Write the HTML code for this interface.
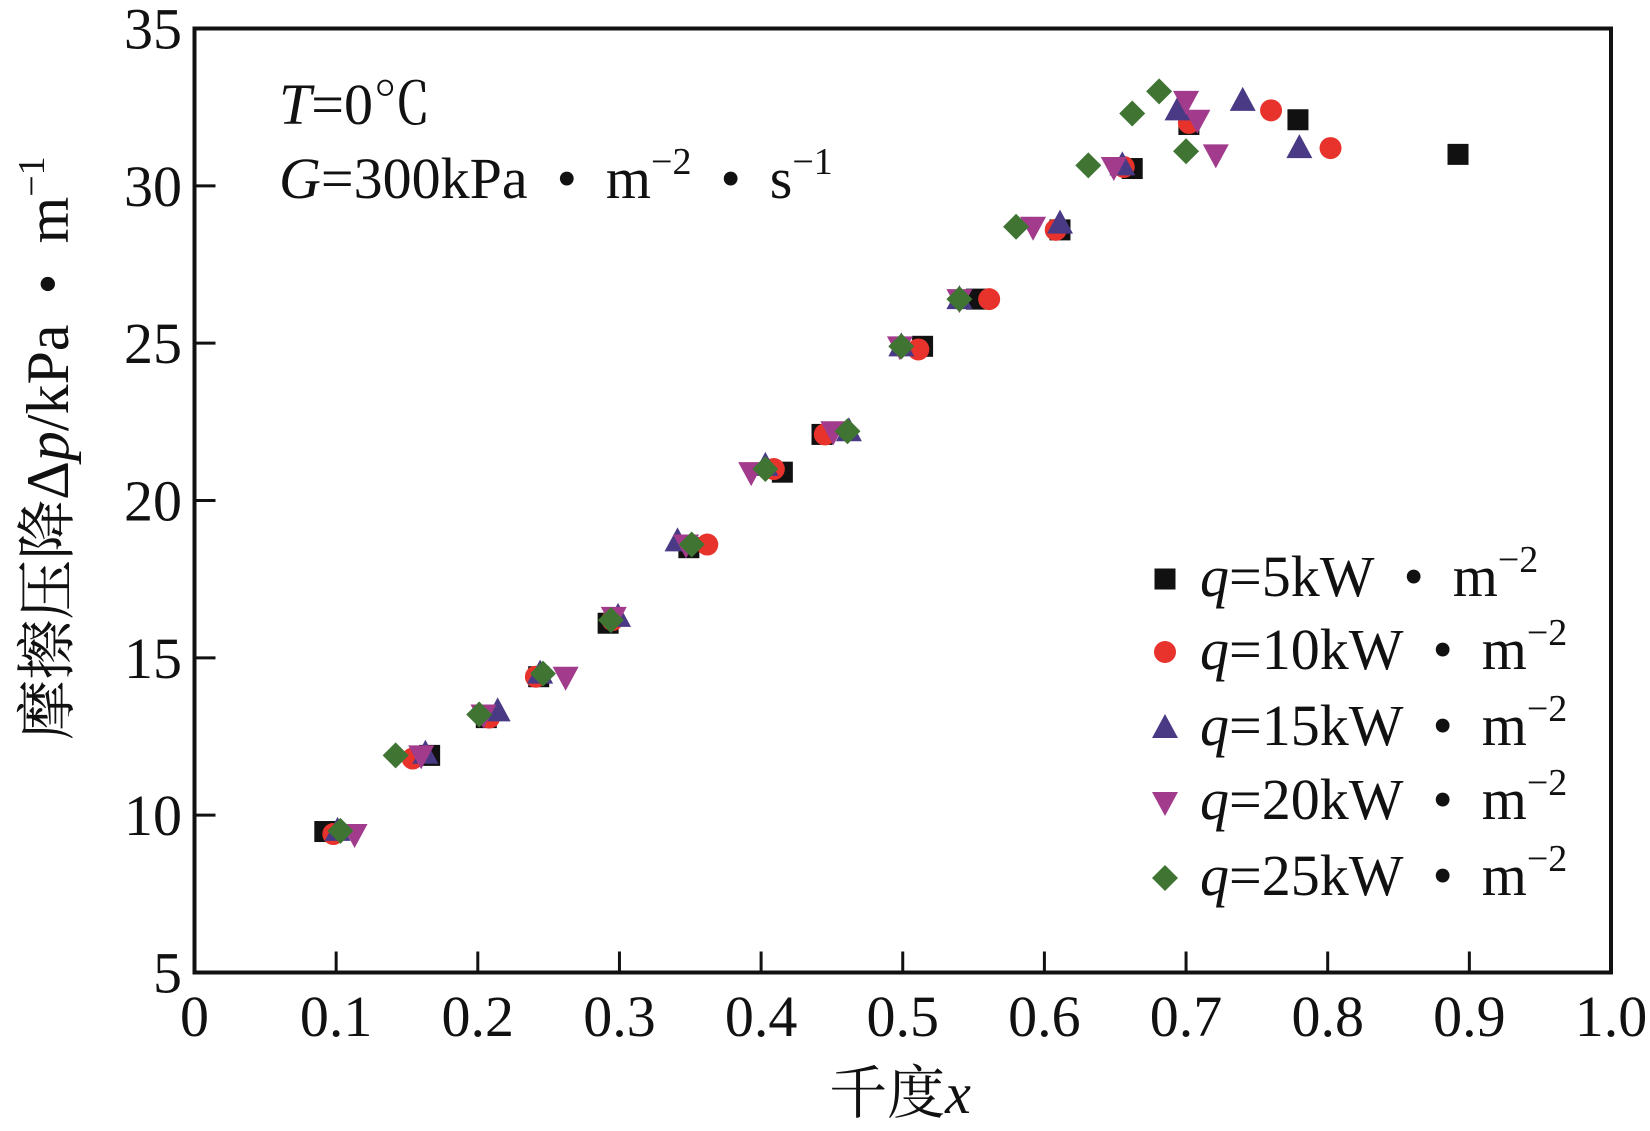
<!DOCTYPE html>
<html><head><meta charset="utf-8">
<style>
html,body{margin:0;padding:0;background:#fff;}
svg{display:block;}
text{font-family:"Liberation Serif","Noto Serif CJK SC","Noto Sans CJK SC",serif;fill:#111;}
</style></head>
<body>
<svg id="chart" width="1650" height="1131" viewBox="0 0 1650 1131">
<g id="marks"></g>
<rect x="194.5" y="28.5" width="1416.5" height="944" fill="none" stroke="#111" stroke-width="4"/>
<g id="ticks"></g>
<text x="279" y="124" font-size="58"><tspan font-style="italic">T</tspan>=0℃</text>
<text x="279" y="198" font-size="58"><tspan font-style="italic">G</tspan>=300kPa&#8194;•&#8194;m<tspan dy="-24" font-size="38">−2</tspan><tspan dy="24">&#8194;•&#8194;s</tspan><tspan dy="-24" font-size="38">−1</tspan></text>
<text transform="translate(68,448) rotate(-90)" text-anchor="middle" font-size="60">摩擦压降Δ<tspan font-style="italic">p</tspan>/kPa&#8194;•&#8194;m<tspan dy="-24" font-size="38">−1</tspan></text>
<text x="900" y="1113" text-anchor="middle" font-size="58">千度<tspan font-style="italic">x</tspan></text>
<g id="legend"></g>
</svg>
<script>
const xTicks = [0,0.1,0.2,0.3,0.4,0.5,0.6,0.7,0.8,0.9,1.0];
const xTickLabels = ["0","0.1","0.2","0.3","0.4","0.5","0.6","0.7","0.8","0.9","1.0"];
const yTicks = [5,10,15,20,25,30,35];
const seriesNames = ["q=5kW","q=10kW","q=15kW","q=20kW","q=25kW"];
const q5x = [.092,.166,.206,.243,.292,.349,.415,.443,.514,.552,.611,.662,.702,.779,.892];
const q5y = [9.48,11.9,13.1,14.4,16.1,18.5,20.9,22.1,24.9,26.4,28.6,30.55,31.95,32.1,31.0];
const q10x = [.098,.154,.208,.241,.295,.362,.409,.445,.511,.561,.608,.656,.702,.760,.802];
const q10y = [9.4,11.8,13.1,14.4,16.2,18.6,21.0,22.1,24.8,26.4,28.6,30.6,32.0,32.4,31.2];
const q15x = [.101,.163,.214,.244,.299,.341,.403,.462,.499,.540,.611,.655,.694,.740,.780];
const q15y = [9.5,11.95,13.3,14.5,16.3,18.7,21.1,22.2,24.9,26.4,28.8,30.65,32.4,32.7,31.2];
const q20x = [.113,.160,.204,.262,.296,.347,.393,.451,.498,.540,.592,.649,.700,.708,.721];
const q20y = [9.4,11.9,13.2,14.4,16.3,18.6,20.9,22.2,24.9,26.4,28.7,30.6,32.7,32.1,31.0];
const q25x = [.103,.142,.201,.246,.294,.351,.403,.461,.499,.540,.580,.631,.662,.681,.700];
const q25y = [9.5,11.9,13.2,14.5,16.2,18.6,21.0,22.2,24.9,26.4,28.7,30.65,32.3,33.0,31.1];

const NS="http://www.w3.org/2000/svg";
const X0=194.5,X1=1611,Y0=972.5,Y1=28.5;
function sx(v){return X0+(v-0)/(1-0)*(X1-X0);}
function sy(v){return Y0-(v-5)/(35-5)*(Y0-Y1);}
function mk(tag,attrs,parent){const e=document.createElementNS(NS,tag);for(const k in attrs)e.setAttribute(k,attrs[k]);parent.appendChild(e);return e;}

const colors=["#111111","#e8332c","#4a3a86","#a23b8c","#3f7433"];
function marker(type,cx,cy,parent){
  let e;
  if(type===0){e=mk('rect',{x:cx-10.5,y:cy-10.5,width:21,height:21,fill:colors[0]},parent);}
  else if(type===1){e=mk('circle',{cx:cx,cy:cy,r:11,fill:colors[1]},parent);}
  else if(type===2){e=mk('polygon',{points:`${cx},${cy-14} ${cx-13},${cy+10} ${cx+13},${cy+10}`,fill:colors[2]},parent);}
  else if(type===3){e=mk('polygon',{points:`${cx},${cy+14} ${cx-13},${cy-10} ${cx+13},${cy-10}`,fill:colors[3]},parent);}
  else {e=mk('polygon',{points:`${cx},${cy-13} ${cx+13},${cy} ${cx},${cy+13} ${cx-13},${cy}`,fill:colors[4]},parent);}
  return e;
}
const marks=document.getElementById('marks');
const allX=[q5x,q10x,q15x,q20x,q25x], allY=[q5y,q10y,q15y,q20y,q25y];
for(let s=0;s<5;s++){
  for(let i=0;i<allX[s].length;i++){
    const e=marker(s,sx(allX[s][i]),sy(allY[s][i]),marks);
    
    
  }
}
const ticks=document.getElementById('ticks');
xTicks.forEach((v,i)=>{
  if(i>0&&i<xTicks.length-1){const l=mk('line',{x1:sx(v),x2:sx(v),y1:Y0,y2:Y0-21,stroke:'#111','stroke-width':3},ticks);
  
  }
  const t=mk('text',{x:sx(v),y:1036,'text-anchor':'middle','font-size':58},ticks);
  t.textContent=xTickLabels[i];
  
  
});
yTicks.forEach(v=>{
  if(v>5&&v<35){const l=mk('line',{x1:X0,x2:X0+21,y1:sy(v),y2:sy(v),stroke:'#111','stroke-width':3},ticks);
  
  }
  const t=mk('text',{x:182,y:sy(v)+20,'text-anchor':'end','font-size':58},ticks);
  t.textContent=String(v);
  
  
});
const legend=document.getElementById('legend');
const ly=[579,652,728,802,878];
seriesNames.forEach((n,s)=>{
  const m=marker(s,1165,ly[s],legend);
  
  
  const t=mk('text',{x:1200,y:ly[s]+17,'font-size':58},legend);
  t.innerHTML='<tspan font-style="italic">q</tspan>'+n.slice(1)+'\u2002•\u2002m<tspan dy="-24" font-size="38">−2</tspan>';
  
  
});
</script>
</body></html>
